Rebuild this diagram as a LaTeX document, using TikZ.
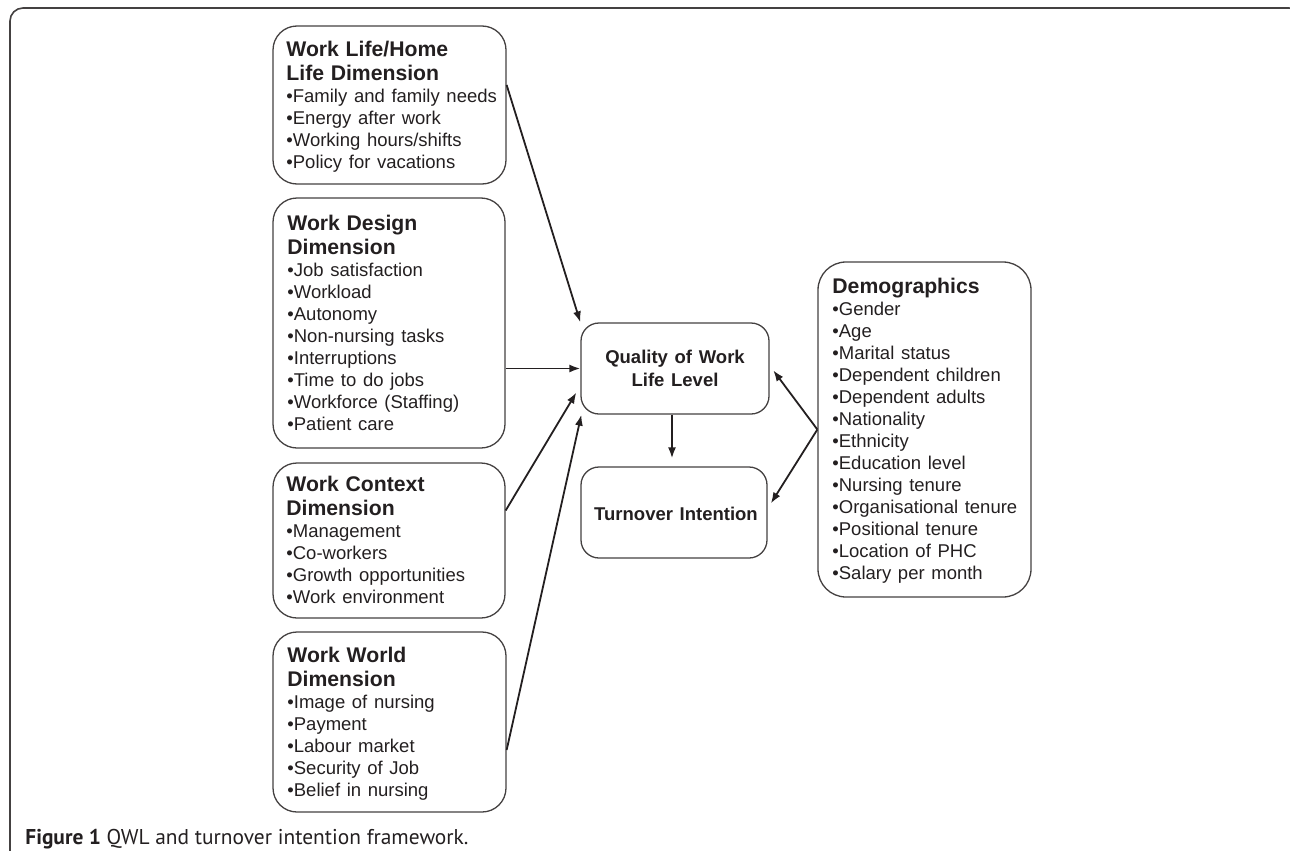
\documentclass[tikz,border=0pt]{standalone}
\usepackage{fontspec}
\setmainfont{Liberation Sans}
\newfontfamily\capfont{PT Sans}
\usetikzlibrary{arrows.meta}
\definecolor{ink}{HTML}{231F20}
\newcommand{\ttlfont}{\fontsize{10.6}{12}\bfseries\selectfont}
\newcommand{\itmfont}{\fontsize{9.25}{11}\mdseries\selectfont}
\newcommand{\ctrfont}{\fontsize{9.25}{11.5}\bfseries\selectfont}
\begin{document}
\begin{tikzpicture}[x=0.5pt,y=-0.5pt,
  box/.style={draw=ink!85, line width=0.65pt, rounded corners=12pt, inner sep=0pt},
  cbox/.style={draw=ink!85, line width=0.65pt, rounded corners=9pt, inner sep=0pt},
  txt/.style={anchor=base west, inner sep=0pt, text width=118pt, align=left, text=ink},
  ctxt/.style={anchor=base, inner sep=0pt, text width=92pt, align=center, text=ink},
  arr/.style={draw=ink, line width=0.9pt, -{Latex[length=5.5pt,width=4pt]}},
  frame/.style={draw=ink!85, line width=0.8pt, rounded corners=6.5pt}]
\useasboundingbox (0,0) rectangle (1290,851);
\clip (0,0) rectangle (1290,851);
\draw[frame] (10,860) -- (10,8) -- (1302,8) -- (1302,860);

% boxes
\node[box, minimum width=116.5pt, minimum height=79pt] (b1) at (389.5,105) {};
\node[box, minimum width=116pt, minimum height=125pt] (b2) at (389,323) {};
\node[box, minimum width=116pt, minimum height=77.5pt] (b3) at (389,540.5) {};
\node[box, minimum width=116.5pt, minimum height=90pt] (b4) at (389.5,722) {};
\node[cbox, minimum width=94pt, minimum height=45.5pt] (qwl) at (675,368.5) {};
\node[cbox, minimum width=93pt, minimum height=45.5pt] (to) at (674,512.5) {};
\node[box, minimum width=106.5pt, minimum height=167.5pt, rounded corners=14pt] (demo) at (924.5,429.5) {};

% texts
\node[txt] (t1) at (286,56) {\ttlfont Work Life/Home\\Life Dimension\par
  \itmfont •Family and family needs\\•Energy after work\\•Working hours/shifts\\•Policy for vacations\par};
\node[txt] (t2) at (287,230) {\ttlfont Work Design\\Dimension\par
  \itmfont •Job satisfaction\\•Workload\\•Autonomy\\•Non-nursing tasks\\•Interruptions\\•Time to do jobs\\•Workforce (Staffing)\\•Patient care\par};
\node[txt] (t3) at (286,491) {\ttlfont Work Context\\Dimension\par
  \itmfont •Management\\•Co-workers\\•Growth opportunities\\•Work environment\par};
\node[txt] (t4) at (287,662) {\ttlfont Work World\\Dimension\par
  \itmfont •Image of nursing\\•Payment\\•Labour market\\•Security of Job\\•Belief in nursing\par};
\node[txt] (t5) at (832,293) {\ttlfont Demographics\par
  \itmfont •Gender\\•Age\\•Marital status\\•Dependent children\\•Dependent adults\\•Nationality\\•Ethnicity\\•Education level\\•Nursing tenure\\•Organisational tenure\\•Positional tenure\\•Location of PHC\\•Salary per month\par};
\node[ctxt] (tq) at (675,363) {\ctrfont Quality of Work\\Life Level\par};
\node[ctxt] (tt) at (676,520) {\ctrfont Turnover Intention\par};

% connectors
\draw[arr] ([yshift=10pt]b1.east) -- (qwl.north west);
\draw[arr] (b2.east |- qwl.west) -- (qwl.west);
\draw[arr] ([yshift=15pt]b3.east) -- ([xshift=-2pt,yshift=-12pt]qwl.west);
\draw[arr] ([yshift=-14pt]b4.east) -- ([xshift=0.5pt]qwl.south west);
\draw[arr, shorten >=4pt] (qwl.south -| tt.base) ++(-2pt,0) coordinate (qs) (qs) -- (qs |- to.north);
\draw[arr, shorten >=3pt] (demo.west) -- ([yshift=1.5pt]qwl.east);
\draw[arr, shorten >=3pt] (demo.west) -- ([yshift=2pt]to.east);

% caption
\node[anchor=base west, inner sep=0pt, text=ink] (cap) at (25,844)
  {\capfont\fontsize{10.7}{12}\selectfont\textbf{Figure 1} QWL and turnover intention framework.};
\end{tikzpicture}
\end{document}
